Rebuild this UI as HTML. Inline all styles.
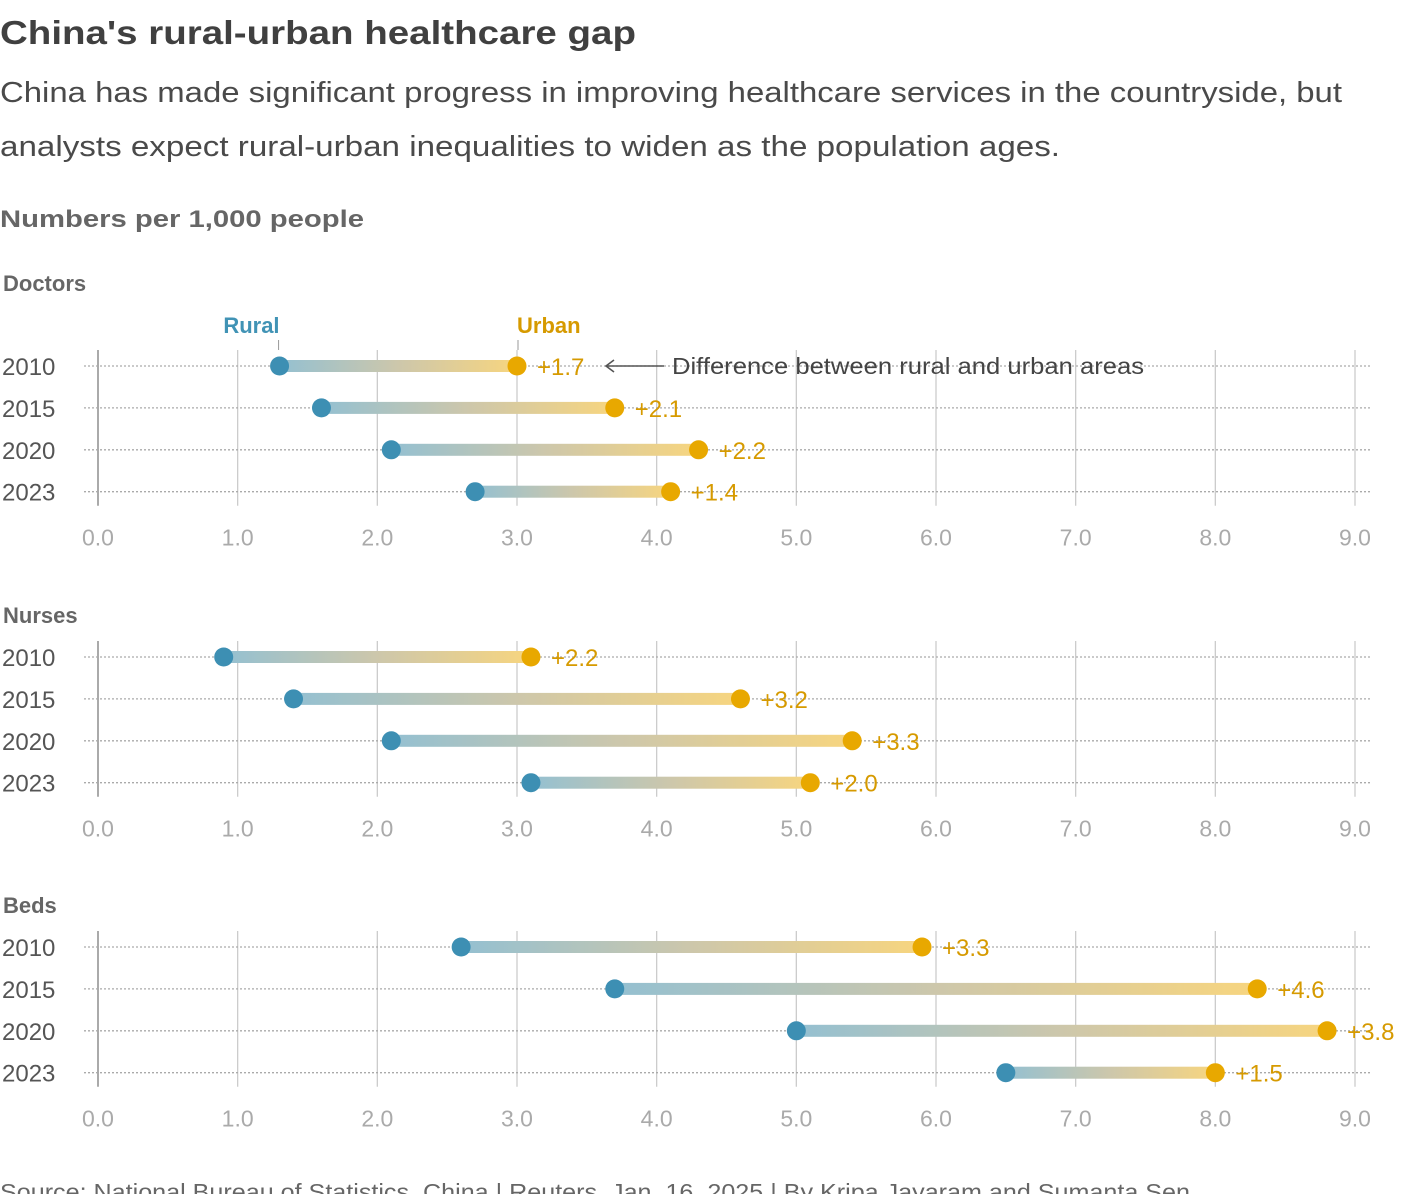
<!DOCTYPE html>
<html><head><meta charset="utf-8"><style>
body{margin:0;background:#fff;width:1420px;height:1194px;overflow:hidden;font-family:"Liberation Sans",sans-serif;}
</style></head><body>
<svg id="chart" width="1420" height="1194" xmlns="http://www.w3.org/2000/svg" font-family="Liberation Sans, sans-serif">
<defs>
<linearGradient id="g" x1="0" x2="1" y1="0" y2="0">
<stop offset="0" stop-color="#94c0d1"/><stop offset="0.5" stop-color="#cdc7ab"/><stop offset="1" stop-color="#f7d57f"/>
</linearGradient>
</defs>
<text x="0" y="44" font-size="33" font-weight="bold" fill="#404040" textLength="636" lengthAdjust="spacingAndGlyphs">China's rural-urban healthcare gap</text>
<text x="0" y="102" font-size="29" fill="#4a4a4a" textLength="1342" lengthAdjust="spacingAndGlyphs">China has made significant progress in improving healthcare services in the countryside, but</text>
<text x="0" y="156" font-size="29" fill="#4a4a4a" textLength="1060" lengthAdjust="spacingAndGlyphs">analysts expect rural-urban inequalities to widen as the population ages.</text>
<text x="0" y="227" font-size="24" font-weight="bold" fill="#666" textLength="364" lengthAdjust="spacingAndGlyphs">Numbers per 1,000 people</text>
<text x="0" y="1200" font-size="23" fill="#666" textLength="1190" lengthAdjust="spacingAndGlyphs">Source: National Bureau of Statistics, China | Reuters, Jan. 16, 2025 | By Kripa Jayaram and Sumanta Sen</text>
<g id="panels"></g>
</svg>
<script>
const years = ["2010","2015","2020","2023"];
const ticks = [0,1,2,3,4,5,6,7,8,9];
const panelNames = ["Doctors","Nurses","Beds"];
const doctorsRural = [1.3,1.6,2.1,2.7];
const doctorsUrban = [3.0,3.7,4.3,4.1];
const doctorsDiff = ["+1.7","+2.1","+2.2","+1.4"];
const nursesRural = [0.9,1.4,2.1,3.1];
const nursesUrban = [3.1,4.6,5.4,5.1];
const nursesDiff = ["+2.2","+3.2","+3.3","+2.0"];
const bedsRural = [2.6,3.7,5.0,6.5];
const bedsUrban = [5.9,8.3,8.8,8.0];
const bedsDiff = ["+3.3","+4.6","+3.8","+1.5"];

const NS="http://www.w3.org/2000/svg";
const X0=98, X1=1355, XMAX=9;
function xs(v){return X0+(X1-X0)*v/XMAX;}
const panelTop=[366,657,947];
const rowStep=41.9;
function yr(p,i){return panelTop[p]+i*rowStep;}
const root=document.getElementById('panels');
function mk(tag,attrs,parent){const e=document.createElementNS(NS,tag);for(const k in attrs)e.setAttribute(k,attrs[k]);(parent||root).appendChild(e);return e;}
const data=[[doctorsRural,doctorsUrban,doctorsDiff],[nursesRural,nursesUrban,nursesDiff],[bedsRural,bedsUrban,bedsDiff]];
const titleY=[291,623,913];
data.forEach((d,p)=>{
  const g=mk('g',{});
  
  
  const t=mk('text',{x:3,y:titleY[p],'font-size':22,'font-weight':'bold',fill:'#666'},g);
  t.textContent=panelNames[p];
  
  
  const top=yr(p,0)-16, bot=yr(p,3)+14;
  ticks.forEach(tk=>{
    const l=mk('line',{x1:xs(tk),x2:xs(tk),y1:top,y2:bot,stroke:tk===0?'#aaa':'#ccc','stroke-width':tk===0?2:1.3},g);
    
    
    const tl=mk('text',{x:xs(tk),y:yr(p,3)+54,'font-size':23,fill:'#aaa','text-anchor':'middle'},g);
    tl.textContent=tk.toFixed(1);
    
    
  });
  years.forEach((yrl,i)=>{
    const y=yr(p,i);
    const dl=mk('line',{x1:84,x2:1370,y1:y,y2:y,stroke:'#aaa','stroke-width':1.3,'stroke-dasharray':'2,2'},g);
    
    
    const yl=mk('text',{x:2,y:y+9,'font-size':24,fill:'#555'},g);
    yl.textContent=yrl;
    
    
    const a=xs(d[0][i]), b=xs(d[1][i]);
    const bar=mk('rect',{x:a,y:y-6,width:b-a,height:12,fill:'url(#g)'},g);
    
    
    const c1=mk('circle',{cx:a,cy:y,r:9.5,fill:'#3d8fb3'},g);
    
    
    const c2=mk('circle',{cx:b,cy:y,r:9.5,fill:'#e8a800'},g);
    
    
    const lb=mk('text',{x:b+20,y:y+9,'font-size':24,fill:'#d69a00'},g);
    lb.textContent=d[2][i];
    
    
  });
});
const rx=xs(doctorsRural[0]), ux=xs(doctorsUrban[0]);
let e=mk('text',{x:rx,y:333,'font-size':22,'font-weight':'bold',fill:'#4193b5','text-anchor':'end'});e.textContent='Rural';


e=mk('line',{x1:rx-1,x2:rx-1,y1:340,y2:350,stroke:'#999','stroke-width':1});


e=mk('text',{x:ux,y:333,'font-size':22,'font-weight':'bold',fill:'#d69a00'});e.textContent='Urban';


e=mk('line',{x1:ux+1,x2:ux+1,y1:340,y2:350,stroke:'#999','stroke-width':1});


e=mk('path',{d:'M606 366 L664 366 M614 360 L606 366 L614 372',stroke:'#555','stroke-width':1.6,fill:'none'});


e=mk('text',{x:672,y:374,'font-size':23,fill:'#444',textLength:472,lengthAdjust:'spacingAndGlyphs'});e.textContent='Difference between rural and urban areas';


</script>
</body></html>
